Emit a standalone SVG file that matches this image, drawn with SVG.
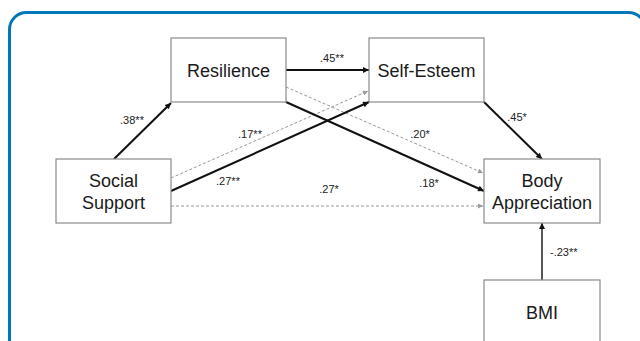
<svg xmlns="http://www.w3.org/2000/svg" width="640" height="341" viewBox="0 0 640 341">
<style>
.box{fill:#fff;stroke:#8a8a8a;stroke-width:1.2}
.node text{font-family:"Liberation Sans",Arial,sans-serif;font-size:18px;fill:#1a1a1a;text-anchor:middle}
.solid{stroke:#111;stroke-width:2;fill:none}
.thin{stroke:#111;stroke-width:1.4;fill:none}
.dash{stroke:#999;stroke-width:1;stroke-dasharray:3 2;fill:none}
.lbl{font-family:"Liberation Sans",Arial,sans-serif;font-size:11px;fill:#222;text-anchor:middle}
.lbl.start{text-anchor:start}
</style>
<defs>
<marker id="ab" viewBox="0 0 10 10" refX="10" refY="5" markerWidth="7" markerHeight="6" markerUnits="userSpaceOnUse" orient="auto"><path d="M0,0 L10,5 L0,10 z" fill="#111"/></marker>
<marker id="ag" viewBox="0 0 10 10" refX="10" refY="5" markerWidth="6" markerHeight="5" markerUnits="userSpaceOnUse" orient="auto"><path d="M0,0 L10,5 L0,10 z" fill="#999"/></marker>
</defs>
<rect x="0" y="0" width="640" height="341" fill="#fff"/>
<rect id="frame" x="9.5" y="12.5" width="636" height="360" rx="17" ry="17" fill="none" stroke="#0077b6" stroke-width="3"/>
<g id="connectors">
<line class="dash" x1="171" y1="178" x2="368" y2="91" marker-end="url(#ag)"/>
<line class="dash" x1="286" y1="87" x2="483" y2="173" marker-end="url(#ag)"/>
<line class="dash" x1="171" y1="206" x2="483" y2="206" marker-end="url(#ag)"/>
<line class="solid" x1="114" y1="159" x2="171" y2="103" marker-end="url(#ab)"/>
<line class="solid" x1="286" y1="70" x2="369" y2="70" marker-end="url(#ab)"/>
<line class="solid" x1="286" y1="102" x2="484" y2="191" marker-end="url(#ab)"/>
<line class="solid" x1="171" y1="191" x2="369" y2="102" marker-end="url(#ab)"/>
<line class="solid" x1="484" y1="102" x2="542" y2="159" marker-end="url(#ab)"/>
<line class="thin" x1="542" y1="280" x2="542" y2="223" marker-end="url(#ab)"/>
<text class="lbl" x="132" y="124">.38**</text>
<text class="lbl" x="332" y="62">.45**</text>
<text class="lbl" x="250" y="138">.17**</text>
<text class="lbl" x="420" y="138">.20*</text>
<text class="lbl" x="228" y="185">.27**</text>
<text class="lbl" x="329" y="193">.27*</text>
<text class="lbl" x="429" y="187">.18*</text>
<text class="lbl" x="517" y="121">.45*</text>
<text class="lbl start" x="550" y="256">-.23**</text>
</g>
<g id="resilience" class="node"><rect class="box" x="171" y="38" width="115" height="64"/><text x="228.5" y="77">Resilience</text></g>
<g id="self-esteem" class="node"><rect class="box" x="369" y="38" width="115" height="64"/><text x="426.5" y="77">Self-Esteem</text></g>
<g id="social-support" class="node"><rect class="box" x="56" y="159" width="115" height="64"/><text x="113.5" y="187">Social</text><text x="113.5" y="209">Support</text></g>
<g id="body-appreciation" class="node"><rect class="box" x="484" y="159" width="116" height="64"/><text x="542" y="187">Body</text><text x="542" y="209">Appreciation</text></g>
<g id="bmi" class="node"><rect class="box" x="484" y="280" width="116" height="66"/><text x="542" y="319">BMI</text></g>
</svg>
